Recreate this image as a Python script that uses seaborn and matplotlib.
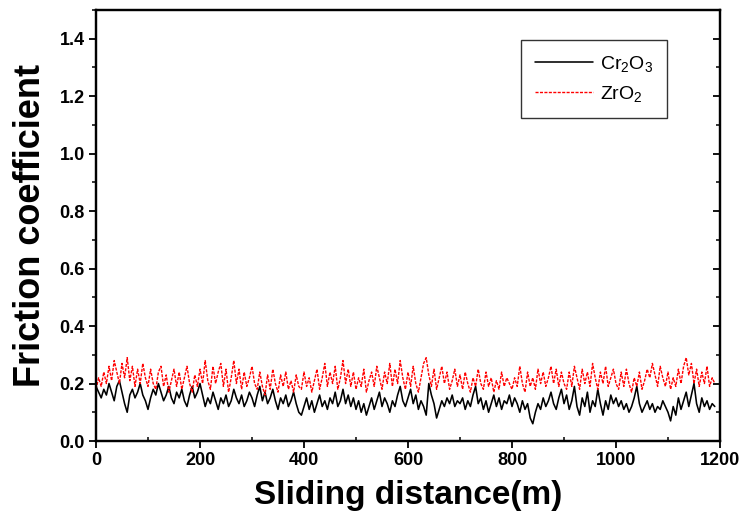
import numpy as np
import pandas as pd
import seaborn as sns
import matplotlib
matplotlib.use("Agg")
import matplotlib.pyplot as plt
from matplotlib.ticker import MultipleLocator
from matplotlib.font_manager import FontProperties

distance = np.arange(0, 1195, 5)

cr2o3 = [
    0.19,0.17,0.15,0.18,0.16,0.20,0.17,0.14,0.19,0.21,0.17,0.13,0.10,0.16,0.18,0.15,0.17,0.20,0.16,0.14,
    0.11,0.15,0.18,0.16,0.20,0.17,0.14,0.16,0.19,0.15,0.13,0.17,0.15,0.18,0.14,0.12,0.16,0.19,0.15,0.17,
    0.20,0.16,0.12,0.15,0.13,0.17,0.14,0.11,0.15,0.13,0.16,0.12,0.14,0.18,0.15,0.13,0.16,0.12,0.14,0.17,
    0.15,0.12,0.16,0.19,0.14,0.17,0.13,0.15,0.18,0.14,0.11,0.15,0.13,0.16,0.12,0.14,0.17,0.13,0.10,0.09,
    0.12,0.15,0.11,0.14,0.10,0.13,0.16,0.12,0.14,0.11,0.15,0.13,0.17,0.12,0.14,0.18,0.13,0.16,0.12,0.15,
    0.11,0.14,0.10,0.13,0.09,0.12,0.15,0.11,0.14,0.17,0.12,0.15,0.13,0.10,0.14,0.12,0.16,0.19,0.14,0.12,
    0.15,0.18,0.13,0.16,0.11,0.14,0.12,0.09,0.20,0.16,0.13,0.08,0.11,0.14,0.12,0.15,0.13,0.16,0.12,0.14,
    0.13,0.15,0.11,0.14,0.12,0.16,0.19,0.13,0.15,0.11,0.14,0.10,0.13,0.16,0.12,0.15,0.11,0.14,0.13,0.16,
    0.12,0.15,0.13,0.10,0.14,0.11,0.13,0.08,0.06,0.10,0.13,0.11,0.15,0.12,0.14,0.17,0.13,0.11,0.15,0.18,
    0.13,0.16,0.11,0.14,0.19,0.12,0.09,0.15,0.12,0.17,0.10,0.14,0.12,0.18,0.13,0.09,0.14,0.11,0.16,0.13,
    0.15,0.12,0.14,0.11,0.13,0.10,0.12,0.15,0.19,0.13,0.10,0.12,0.14,0.11,0.13,0.10,0.12,0.11,0.14,0.12,
    0.10,0.07,0.12,0.09,0.15,0.11,0.14,0.17,0.12,0.16,0.20,0.13,0.10,0.15,0.12,0.14,0.11,0.13,0.12,
]

zro2 = [
    0.18,0.22,0.19,0.24,0.20,0.26,0.21,0.28,0.24,0.20,0.27,0.22,0.29,0.21,0.26,0.19,0.25,0.20,0.27,0.22,
    0.19,0.25,0.20,0.18,0.24,0.26,0.19,0.23,0.17,0.21,0.25,0.19,0.24,0.18,0.22,0.26,0.20,0.17,0.23,0.19,
    0.25,0.20,0.28,0.21,0.18,0.26,0.20,0.24,0.27,0.19,0.25,0.17,0.22,0.28,0.20,0.25,0.18,0.24,0.19,0.22,
    0.26,0.20,0.18,0.24,0.19,0.16,0.23,0.18,0.25,0.20,0.17,0.23,0.19,0.24,0.18,0.21,0.17,0.23,0.19,0.18,
    0.24,0.19,0.22,0.17,0.21,0.25,0.18,0.22,0.27,0.19,0.24,0.20,0.26,0.18,0.22,0.28,0.20,0.25,0.19,0.24,
    0.18,0.22,0.19,0.25,0.17,0.21,0.24,0.19,0.26,0.22,0.18,0.24,0.20,0.27,0.19,0.25,0.20,0.28,0.22,0.18,
    0.24,0.19,0.26,0.20,0.17,0.22,0.27,0.29,0.23,0.19,0.25,0.18,0.22,0.26,0.20,0.24,0.18,0.21,0.25,0.19,
    0.23,0.18,0.24,0.20,0.17,0.22,0.19,0.25,0.20,0.18,0.24,0.19,0.22,0.17,0.21,0.18,0.24,0.19,0.22,0.20,
    0.18,0.22,0.19,0.26,0.20,0.17,0.24,0.19,0.22,0.18,0.25,0.20,0.24,0.19,0.22,0.26,0.20,0.25,0.19,0.24,
    0.20,0.18,0.24,0.19,0.26,0.22,0.18,0.25,0.20,0.24,0.19,0.27,0.22,0.18,0.24,0.20,0.26,0.19,0.22,0.25,
    0.20,0.18,0.24,0.19,0.25,0.20,0.17,0.22,0.19,0.24,0.18,0.21,0.25,0.22,0.27,0.23,0.19,0.26,0.22,0.19,
    0.24,0.18,0.22,0.19,0.25,0.20,0.26,0.29,0.23,0.27,0.20,0.25,0.19,0.24,0.20,0.26,0.19,0.22,0.20,
]

series_names = [r"Cr$_2$O$_3$", r"ZrO$_2$"]
x_label = "Sliding distance(m)"
y_label = "Friction coefficient"

sns.set_style("ticks")
plt.rcParams["font.family"] = ["Liberation Sans", "DejaVu Sans"]
plt.rcParams["mathtext.fontset"] = "custom"
plt.rcParams["mathtext.rm"] = "Liberation Sans"
plt.rcParams["mathtext.it"] = "Liberation Sans"
for k in ["text.color", "axes.labelcolor", "xtick.color", "ytick.color", "axes.edgecolor"]:
    plt.rcParams[k] = "black"

fig = plt.figure(figsize=(7.41, 5.30), dpi=100)
ax = fig.add_axes([96/741, 1 - 441/530, 624/741, 431/530])

sns.lineplot(x=distance, y=cr2o3, ax=ax, color="black", linewidth=1.15,
             label=series_names[0])
sns.lineplot(x=distance, y=zro2, ax=ax, color="red", linewidth=1.0,
             linestyle=(0, (2.2, 1.0)), label=series_names[1])

ax.set_xlim(0, 1200)
ax.set_ylim(0, 1.5)
ax.xaxis.set_minor_locator(MultipleLocator(100))
ax.yaxis.set_minor_locator(MultipleLocator(0.1))
yt = np.arange(0, 1.41, 0.2)
ax.set_yticks(yt)
ax.set_yticklabels([f"{v:.1f}" for v in yt])
ax.set_xticks(np.arange(0, 1201, 200))
ax.set_xticklabels([str(v) for v in range(0, 1201, 200)])

for s in ax.spines.values():
    s.set_linewidth(1.6)
    s.set_visible(True)

tick_fp = FontProperties(family="Liberation Sans", weight="bold", size=13)
for lab in ax.get_xticklabels() + ax.get_yticklabels():
    lab.set_fontproperties(tick_fp)

ax.tick_params(axis="both", which="major", direction="out", length=5, width=1.3,
               right=False, top=False, pad=3)
ax.tick_params(axis="both", which="minor", direction="out", length=3, width=1.1,
               right=False, top=False)
ax.tick_params(axis="x", which="minor", direction="in")

# inward ticks on the right-hand frame
ax_r = ax.twinx()
ax_r.set_ylim(ax.get_ylim())
ax_r.set_yticks(yt)
ax_r.yaxis.set_minor_locator(MultipleLocator(0.1))
ax_r.tick_params(axis="y", which="both", direction="in", length=5, width=1.3,
                 labelright=False)
ax_r.tick_params(axis="y", which="minor", length=3, width=1.1)
for s in ax_r.spines.values():
    s.set_linewidth(1.6)

ax.set_xlabel(x_label, fontsize=24, fontweight="bold", labelpad=8)
ax.set_ylabel(y_label, fontsize=26, fontweight="bold", labelpad=8)

leg = ax.legend(loc="upper right", bbox_to_anchor=(571/624, 1 - 30/431),
                frameon=True, fancybox=False, edgecolor="black",
                fontsize=14, handlelength=3.0, handletextpad=0.35,
                borderpad=0.7, labelspacing=0.55, borderaxespad=0.0)
leg.get_frame().set_linewidth(1.0)

fig.savefig("out.png", dpi=100)
